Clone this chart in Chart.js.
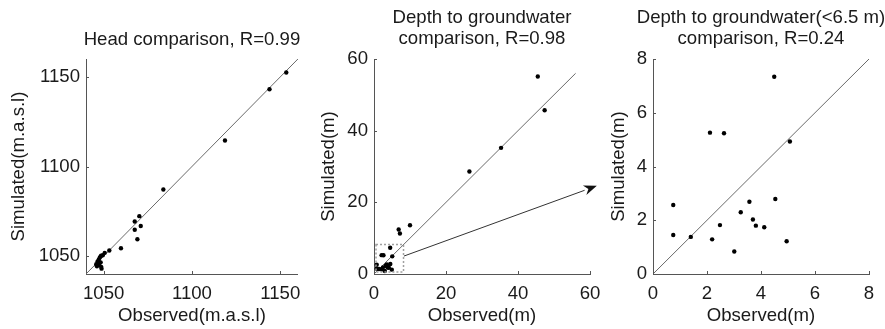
<!DOCTYPE html>
<html>
<head>
<meta charset="utf-8">
<script src="https://cdn.jsdelivr.net/npm/chart.js@4.4.1/dist/chart.umd.min.js"></script>
<style>
  html, body { margin: 0; padding: 0; background: #fff; }
  #wrap { position: relative; width: 885px; height: 329px; overflow: hidden; }
  canvas { position: absolute; top: 0; }
</style>
</head>
<body>
<div id="wrap">
  <canvas id="head" width="310" height="329" style="left:0px"></canvas>
  <canvas id="depth" width="310" height="329" style="left:300px"></canvas>
  <canvas id="shallow" width="295" height="329" style="left:590px"></canvas>
</div>
<script>
// head, m.a.s.l
const headObs = [1153.4, 1143.9, 1118.7, 1083.8, 1070.2, 1067.6, 1071.0, 1067.6, 1069.1, 1059.8, 1053.2, 1050.6,
                 1049.5, 1048.5, 1047.8, 1047.2, 1046.5, 1045.8, 1046.2, 1047.5, 1048.3, 1048.6, 1048.8, 1047.0];
const headSim = [1152.5, 1143.1, 1114.5, 1087.2, 1072.3, 1069.3, 1066.8, 1064.7, 1059.4, 1054.4, 1053.1, 1051.8,
                 1050.5, 1050.2, 1049.2, 1048.0, 1046.8, 1045.5, 1044.3, 1045.0, 1046.5, 1044.0, 1043.0, 1047.2];
const headTicks = [1050, 1100, 1150];
const headLine = [1040, 1160];

// depth to groundwater, m
const depthObs = [4.49, 2.11, 2.63, 5.07, 0.75, 4.53, 3.57, 3.25, 3.70, 2.48, 3.81, 4.12, 0.75, 1.40, 2.19, 4.95, 3.01,
                  6.85, 7.2, 10.0, 26.5, 35.3, 45.5, 47.4];
const depthSim = [7.34, 5.26, 5.24, 4.93, 2.57, 2.79, 2.69, 2.30, 2.03, 1.82, 1.80, 1.74, 1.45, 1.38, 1.29, 1.22, 0.84,
                  12.4, 11.3, 13.6, 28.6, 35.2, 55.1, 45.7];
const depthTicks = [0, 20, 40, 60];
const depthLine = [0, 56];
const zoomBox = 8.2;              // dotted box around the shallow wells
const arrowFrom = [8.3, 5.0];
const arrowTo = [61.9, 24.6];

const shallowTicks = [0, 2, 4, 6, 8];
const shallowLine = [0, 8];

const FONT = "'Liberation Sans', Arial, Helvetica, sans-serif";
const FSIZE = 18.6;
const INK = '#1a1a1a';
const AXIS = '#555';

function pairs(xs, ys) {
  return xs.map((x, i) => ({ x: x, y: ys[i] }));
}

// right panel = wells with observed depth < 6.5 m
const shallowPts = pairs(depthObs, depthSim).filter(p => p.x < 6.5);

const decor = {
  id: 'decor',
  afterDraw(chart, args, opts) {
    const ctx = chart.ctx, a = chart.chartArea;
    const xs = chart.scales.x, ys = chart.scales.y;
    ctx.save();

    // matlab style ticks pointing inwards
    ctx.strokeStyle = AXIS;
    ctx.lineWidth = 1;
    ctx.beginPath();
    xs.ticks.forEach(t => {
      const px = Math.round(xs.getPixelForValue(t.value)) + 0.5;
      ctx.moveTo(px, a.bottom);
      ctx.lineTo(px, a.bottom - 3);
    });
    ys.ticks.forEach(t => {
      const py = Math.round(ys.getPixelForValue(t.value)) + 0.5;
      ctx.moveTo(a.left, py);
      ctx.lineTo(a.left + 3, py);
    });
    ctx.stroke();

    if (opts.box) {
      const x0 = xs.getPixelForValue(0) + 2, x1 = xs.getPixelForValue(opts.box);
      const y0 = ys.getPixelForValue(0) - 2, y1 = ys.getPixelForValue(opts.box);
      ctx.setLineDash([2, 2]);
      ctx.strokeStyle = '#a0a0a0';
      ctx.lineWidth = 1.5;
      ctx.strokeRect(x0, y1, x1 - x0, y0 - y1);
      ctx.setLineDash([]);
    }

    if (opts.arrow) {
      const sx = xs.getPixelForValue(opts.arrow[0][0]), sy = ys.getPixelForValue(opts.arrow[0][1]);
      const ex = xs.getPixelForValue(opts.arrow[1][0]), ey = ys.getPixelForValue(opts.arrow[1][1]);
      const ang = Math.atan2(ey - sy, ex - sx);
      const len = 13, half = 5;
      const bx = ex - len * Math.cos(ang), by = ey - len * Math.sin(ang);
      ctx.strokeStyle = '#333';
      ctx.lineWidth = 1;
      ctx.beginPath();
      ctx.moveTo(sx, sy);
      ctx.lineTo(bx, by);
      ctx.stroke();
      ctx.fillStyle = '#111';
      ctx.beginPath();
      ctx.moveTo(ex, ey);
      ctx.lineTo(bx + half * Math.sin(ang), by - half * Math.cos(ang));
      ctx.lineTo(ex - (len - 4) * Math.cos(ang), ey - (len - 4) * Math.sin(ang));
      ctx.lineTo(bx - half * Math.sin(ang), by + half * Math.cos(ang));
      ctx.closePath();
      ctx.fill();
    }

    // panel title, centred over the plot area
    ctx.fillStyle = INK;
    ctx.font = FSIZE + 'px ' + FONT;
    ctx.textAlign = 'center';
    ctx.textBaseline = 'middle';
    const cx = (a.left + a.right) / 2;
    opts.title.forEach((line, i) => ctx.fillText(line, cx, opts.titleY[i]));
    ctx.restore();
  }
};

function axis(range, ticks, title, opt) {
  return {
    type: 'linear',
    min: range[0],
    max: range[1],
    afterBuildTicks: s => { s.ticks = ticks.map(v => ({ value: v })); },
    afterFit: opt.fit,
    grid: { display: false, drawTicks: false },
    border: { display: true, color: AXIS, width: 1 },
    ticks: {
      color: INK,
      font: { family: FONT, size: FSIZE },
      padding: opt.tickPad,
      callback: v => String(v)
    },
    title: {
      display: true,
      text: title,
      color: INK,
      font: { family: FONT, size: FSIZE },
      padding: opt.titlePad
    }
  };
}

function makePanel(id, pts, line, xRange, yRange, ticks, xTitle, yTitle, yAxisW, rightPad, yTitlePad, deco) {
  return new Chart(document.getElementById(id), {
    type: 'scatter',
    data: {
      datasets: [
        {
          data: pts,
          pointRadius: 2.2,
          pointBackgroundColor: '#000',
          pointBorderWidth: 0
        },
        {
          data: [{ x: line[0], y: line[0] }, { x: line[1], y: line[1] }],
          showLine: true,
          borderColor: '#6a6a6a',
          borderWidth: 1,
          pointRadius: 0
        }
      ]
    },
    options: {
      responsive: false,
      animation: false,
      devicePixelRatio: 1,
      events: [],
      layout: { padding: { top: 59, right: rightPad, left: 0, bottom: 0 } },
      scales: {
        x: axis(xRange, ticks, xTitle, {
          fit: s => { s.height = 55; },
          tickPad: 9,
          titlePad: { top: 0, bottom: 2 }
        }),
        y: axis(yRange, ticks, yTitle, {
          fit: s => { s.width = yAxisW; },
          tickPad: 6,
          titlePad: { top: yTitlePad, bottom: 0 }
        })
      },
      plugins: {
        legend: { display: false },
        tooltip: { enabled: false },
        decor: deco
      }
    },
    plugins: [decor]
  });
}

makePanel('head', pairs(headObs, headSim), headLine, [1040, 1160], [1040, 1160], headTicks,
  'Observed(m.a.s.l)', 'Simulated(m.a.s.l)', 86, 9, 8,
  { title: ['Head comparison, R=0.99'], titleY: [39.5] });

makePanel('depth', pairs(depthObs, depthSim), depthLine, [0, 60], [0, 60], depthTicks,
  'Observed(m)', 'Simulated(m)', 74, 20, 18,
  { title: ['Depth to groundwater', 'comparison, R=0.98'], titleY: [18, 39], box: zoomBox, arrow: [arrowFrom, arrowTo] });

makePanel('shallow', shallowPts, shallowLine, [0, 8], [0, 8], shallowTicks,
  'Observed(m)', 'Simulated(m)', 63, 16, 17.5,
  { title: ['Depth to groundwater(<6.5 m)', 'comparison, R=0.24'], titleY: [18, 39] });
</script>
</body>
</html>
